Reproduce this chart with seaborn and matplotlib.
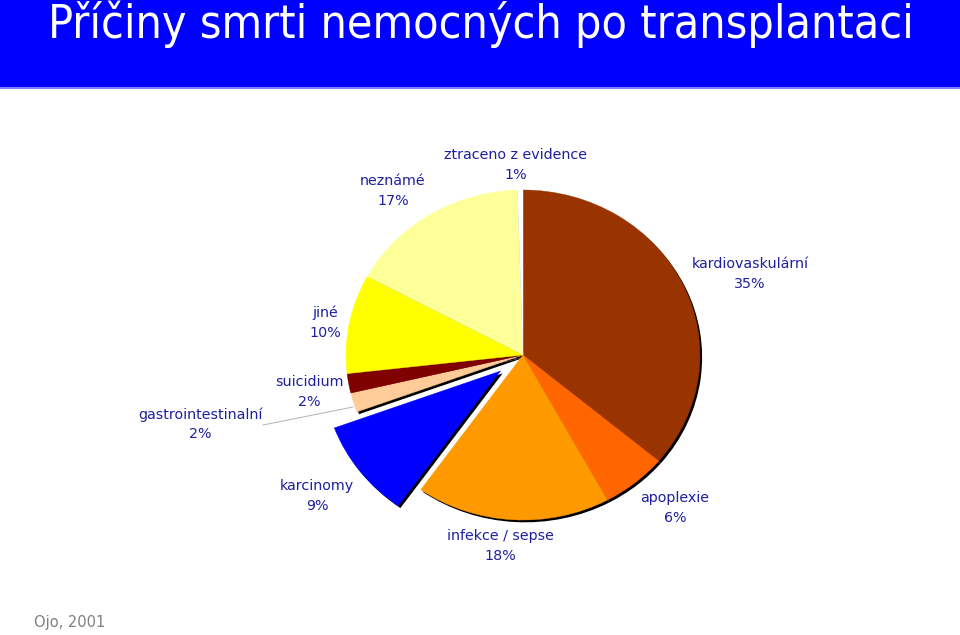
import matplotlib
matplotlib.use("Agg")
import matplotlib.pyplot as plt
import seaborn as sns
from matplotlib.patches import Rectangle

sns.set_theme(style="white")
plt.rcParams['font.family'] = ['DejaVu Sans']

title = "Příčiny smrti nemocných po transplantaci"
categories = ["kardiovaskulární", "apoplexie", "infekce / sepse", "karcinomy",
              "gastrointestinalní", "suicidium", "jiné", "neznámé", "ztraceno z evidence"]
# slice shares
values = [36.1, 6.0, 17.7, 9.6, 1.9, 1.9, 9.7, 16.6, 0.5]
# percentages printed on the labels
pct_labels = ["35%", "6%", "18%", "9%", "2%", "2%", "10%", "17%", "1%"]
colors = ["#993300", "#FF6600", "#FF9900", "#0000FF", "#FFCC99",
          "#800000", "#FFFF00", "#FFFF99", "#FFFFFF"]
explode = [0, 0, 0, 0.16, 0, 0, 0, 0, 0]
source = "Ojo, 2001"

W, H = 960, 635
fig = plt.figure(figsize=(W / 100, H / 100), dpi=100)
fig.patch.set_facecolor("white")

# title bar
bar = fig.add_axes([0, 1 - 87 / H, 1, 87 / H])
bar.set_axis_off()
bar.add_patch(Rectangle((0, 0), 1, 1, transform=bar.transAxes, color="#0000FF"))
fig.add_artist(plt.Line2D([0, 1], [1 - 88 / H, 1 - 88 / H], color="#8080FF", lw=1.5))
fig.text(481 / W, 1 - 24 / H, title, color="white", fontsize=33.4,
         family=["DejaVu Sans"], fontstretch="condensed", ha="center", va="center")

# pie axes (elliptical pie)
cx, cy, rx, ry = 523, 355, 177, 165
lim = 1.3
aw, ah = 2 * rx * lim, 2 * ry * lim
ax = fig.add_axes([(cx - aw / 2) / W, (H - cy - ah / 2) / H, aw / W, ah / H])

# shadow
sw, _ = ax.pie(values, colors=["black"] * len(values), explode=explode,
               startangle=90, counterclock=False, center=(0.012, -0.014),
               wedgeprops=dict(linewidth=0))
sw[-1].set_visible(False)
wedges, _ = ax.pie(values, colors=colors, explode=explode,
                   startangle=90, counterclock=False,
                   wedgeprops=dict(linewidth=0.3))
for w, c in zip(wedges, colors):
    w.set_edgecolor(c)
ax.set_aspect("auto")
ax.set_xlim(-lim, lim)
ax.set_ylim(-lim, lim)
ax.set_axis_off()

lab_color = "#1F1FA0"
positions = {
    "kardiovaskulární": (750, 274),
    "apoplexie": (675, 508),
    "infekce / sepse": (500, 546),
    "karcinomy": (317, 496),
    "gastrointestinalní": (200, 424),
    "suicidium": (309, 392),
    "jiné": (325, 323),
    "neznámé": (393, 191),
    "ztraceno z evidence": (516, 165),
}
for cat, pct in zip(categories, pct_labels):
    x, y = positions[cat]
    fig.text(x / W, 1 - y / H, f"{cat}\n{pct}", color=lab_color, fontsize=10.3,
             ha="center", va="center", linespacing=1.5)

# leader line for gastrointestinalní
fig.add_artist(plt.Line2D([263 / W, 353 / W], [1 - 425 / H, 1 - 407 / H],
                          color="#BBBBBB", lw=0.8))

fig.text(70 / W, 1 - 623 / H, source, color="#808080", fontsize=10.5,
         ha="center", va="center")

fig.savefig("out.png", dpi=100)
